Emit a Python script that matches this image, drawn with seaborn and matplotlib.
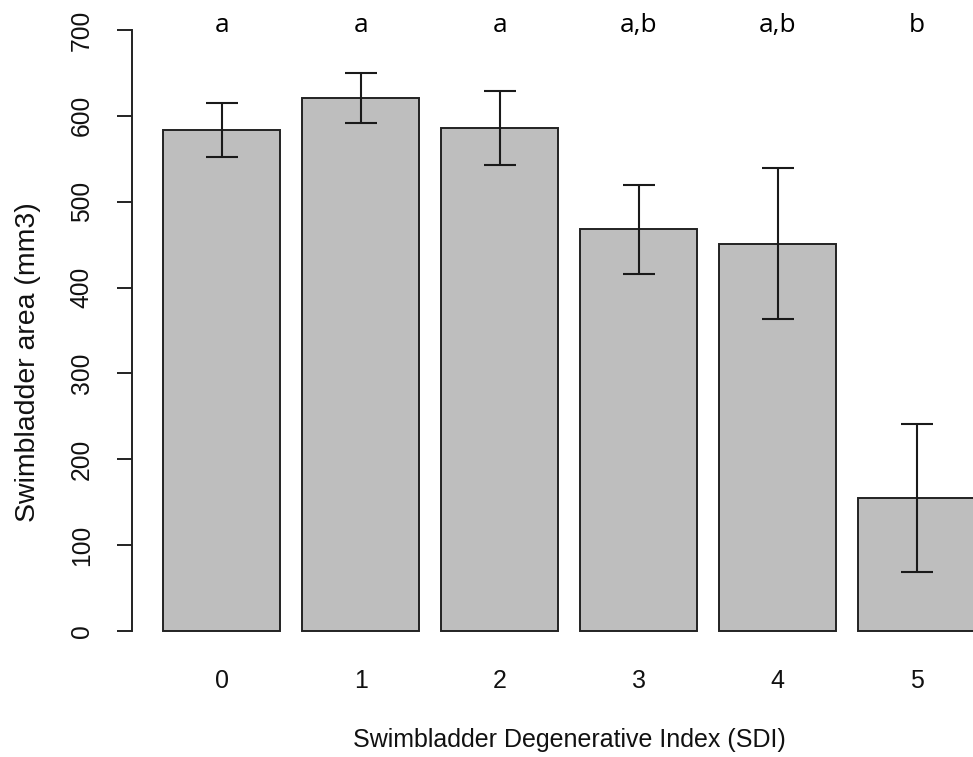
#import packages
import numpy as np
import pandas as pd
import matplotlib.pyplot as plt
import seaborn as sns

#chart values
sdi = ["0", "1", "2", "3", "4", "5"]
area_mean = [584, 621, 586, 468, 451, 155]
area_se = [31.5, 29, 43, 52, 88, 86]
group_letters = ["a", "a", "a", "a,b", "a,b", "b"]
y_ticks = [0, 100, 200, 300, 400, 500, 600, 700]

df = pd.DataFrame({"SDI": sdi, "area": area_mean})

#style
sns.set_style("ticks")
plt.rcParams['font.family'] = ['Liberation Sans', 'DejaVu Sans']
plt.rcParams['text.color'] = 'black'
plt.rcParams['axes.labelcolor'] = '#111111'

fig = plt.figure(figsize=(9.73, 7.57), dpi=100)
ax = fig.add_axes([0.1354, 0.1347, 0.8986, 0.8575])

sns.barplot(data=df, x="SDI", y="area", color="#bebebe", saturation=1,
            edgecolor="#222222", linewidth=1.4, width=0.84, errorbar=None, ax=ax)

#standard error bars
pos = np.arange(len(sdi))
ax.errorbar(pos, area_mean, yerr=area_se, fmt="none", ecolor="#1a1a1a",
            elinewidth=1.5, capsize=11.3, capthick=1.5)

#group letters above the bars
for p, lab in zip(pos, group_letters):
    ax.text(p, 698, lab, ha="center", va="baseline", fontsize=19,
            family=["Open Sans", "DejaVu Sans"], color="black")

ax.set_xlim(-0.647, 5.644)
ax.set_ylim(-28, 728)
ax.set_yticks(y_ticks)
ax.set_yticklabels([str(t) for t in y_ticks], rotation=90, va="center")

sns.despine(ax=ax, top=True, right=True, bottom=True)
ax.spines["left"].set_bounds(0, 700)
ax.spines["left"].set_linewidth(1.4)
ax.spines["left"].set_color("#222222")
ax.tick_params(axis="y", length=10.8, width=1.4, color="#222222",
               pad=16.5, labelsize=17.7, labelcolor="#111111")
ax.tick_params(axis="x", length=0, pad=10, labelsize=18, labelcolor="#111111")

ax.set_xlabel("Swimbladder Degenerative Index (SDI)", fontsize=18)
ax.set_ylabel("Swimbladder area (mm3)", fontsize=20.5)
ax.xaxis.set_label_coords(0.5, -0.112)
ax.yaxis.set_label_coords(-0.104, 0.4515)

plt.savefig("out.png", dpi=100)
